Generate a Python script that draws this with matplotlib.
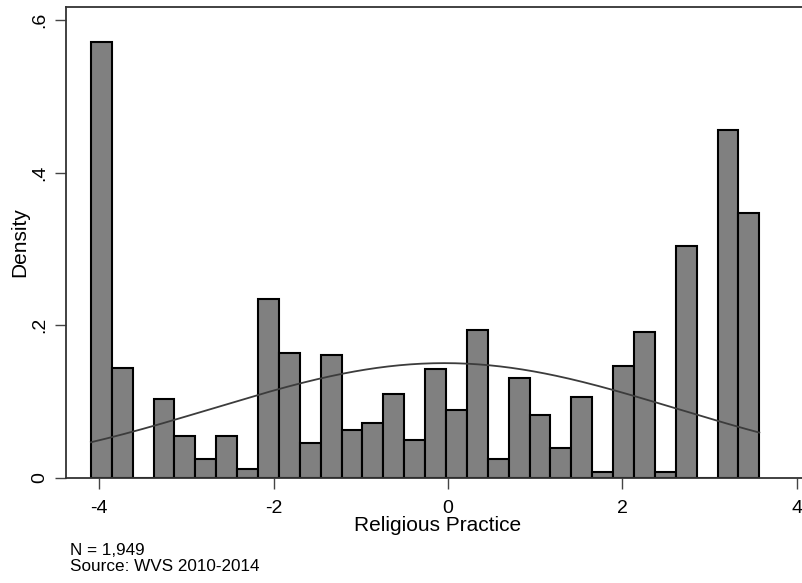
import numpy as np
import matplotlib
matplotlib.use('Agg')
import matplotlib.pyplot as plt

plt.rcParams['font.family'] = ['Liberation Sans', 'DejaVu Sans']

# histogram of religious practice (density scale), 32 bins
bin_left = -4.095
bin_width = 0.2395
density = [0.571, 0.1445, 0.0, 0.104, 0.0546, 0.0245, 0.0546, 0.0114,
           0.234, 0.1637, 0.0458, 0.1615, 0.0629, 0.072, 0.110, 0.0502,
           0.1423, 0.0886, 0.1938, 0.0245, 0.1314, 0.0825, 0.0397, 0.106,
           0.0074, 0.1463, 0.1912, 0.0074, 0.3043, 0.0, 0.4562, 0.3475]

# normal overlay
mu = -0.043
sigma = 2.651

xticks = [-4, -2, 0, 2, 4]
xtick_labels = ['-4', '-2', '0', '2', '4']
yticks = [0, 0.2, 0.4, 0.6]
ytick_labels = ['0', '.2', '.4', '.6']

n_obs = '1,949'
source = 'WVS 2010-2014'

lefts = bin_left + bin_width * np.arange(len(density))
x_right = lefts[-1] + bin_width

fig = plt.figure(figsize=(8.03, 5.83), dpi=100)
ax = fig.add_axes([66/803, 105/583, 744/803, 471/583])

ax.bar(lefts, density, width=bin_width, align='edge',
       color='#808080', edgecolor='black', linewidth=1.5)

xs = np.linspace(bin_left, x_right, 300)
ys = np.exp(-(xs - mu)**2 / (2*sigma**2)) / (sigma*np.sqrt(2*np.pi))
ax.plot(xs, ys, color='#3c3c3c', linewidth=1.3)

ax.set_xlim(-4.38, 4.15)
ax.set_ylim(0, 0.617)
ax.set_xticks(xticks)
ax.set_xticklabels(xtick_labels)
ax.set_yticks(yticks)
ax.set_yticklabels(ytick_labels, rotation=90, va='center')
ax.tick_params(length=8, width=1, color='#444444', labelsize=14, pad=5)
ax.tick_params(axis='x', pad=8)

for s in ax.spines.values():
    s.set_color('#333333')
    s.set_linewidth(1.3)

ax.set_xlabel('Religious Practice', fontsize=15)
ax.set_ylabel('Density', fontsize=15)
ax.yaxis.set_label_coords(-0.05, 0.5)
ax.xaxis.set_label_coords(0.5, -0.113)
ax.xaxis.label.set_va('baseline')

fig.text(70/803, 1 - 555/583, 'N = ' + n_obs, fontsize=12.3, va='baseline')
fig.text(70/803, 1 - 571/583, 'Source: ' + source, fontsize=12.3, va='baseline')

fig.savefig('out.png', dpi=100)
